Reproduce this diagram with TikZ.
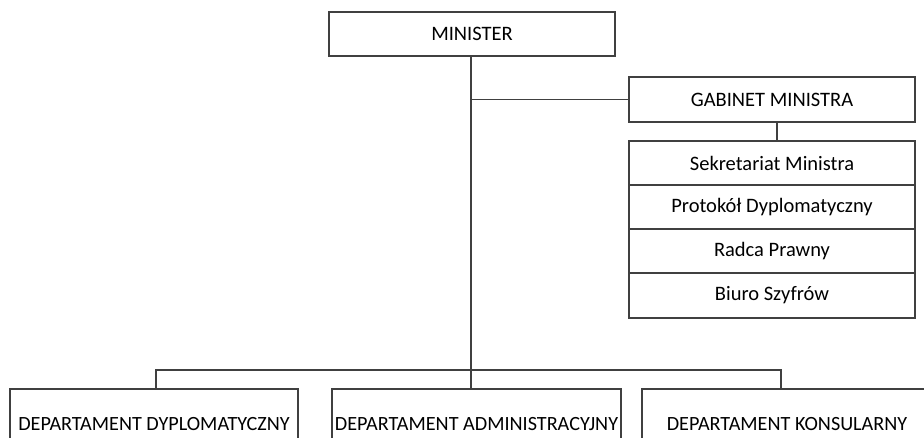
\documentclass[tikz,border=0pt]{standalone}
\usepackage{fontspec}
\setmainfont{Carlito}
\usetikzlibrary{positioning}

\begin{document}
\begin{tikzpicture}[x=1pt,y=-1pt,line width=1.1pt,draw=black!75,
                        unit node/.style={rectangle,draw=black!75,line width=1.1pt,outer sep=0pt,minimum width=286pt,minimum height=44pt,inner sep=0pt,font=\fontsize{20.5}{22}\selectfont,text=black},
                        dept node/.style={unit node,minimum width=289pt,minimum height=70pt,font=\fontsize{20.2}{22}\selectfont}]
                        \useasboundingbox (0,0) rectangle (924,437);
                        \clip (0,0) rectangle (924,437);
                        \node[unit node] (1) at (472,34) {MINISTER};
                        \node[unit node,minimum height=45pt] (2) at (772,99.5) {GABINET MINISTRA};
                        \node[unit node] (3) at (772,163) {Sekretariat Ministra};
                        \node[unit node] (4) [below=0pt of 3] {Protokół Dyplomatyczny};
                        \node[unit node] (5) [below=0pt of 4] {Radca Prawny};
                        \node[unit node,minimum height=45pt] (6) [below=0pt of 5] {Biuro Szyfrów};
                        \node[dept node,minimum width=288pt] (7) at (154,424) {DEPARTAMENT DYPLOMATYCZNY};
                        \node[dept node] (8) at (476.5,424) {DEPARTAMENT ADMINISTRACYJNY};
                        \node[dept node,minimum width=290pt] (9) at (787,424) {DEPARTAMENT KONSULARNY};
                        \coordinate (j) at (471,370);

                        \draw (1.south -| j) -- (j);
                        \draw (2.west) -- (2.west -| j);
                        \draw ([xshift=5pt]2.south) -- ([xshift=5pt]3.north);
                        \draw ([xshift=2pt]7.north) |- (j) -| ([xshift=-6pt]9.north);
                        \draw (j) -- (j |- 8.north);
\end{tikzpicture}
\end{document}
